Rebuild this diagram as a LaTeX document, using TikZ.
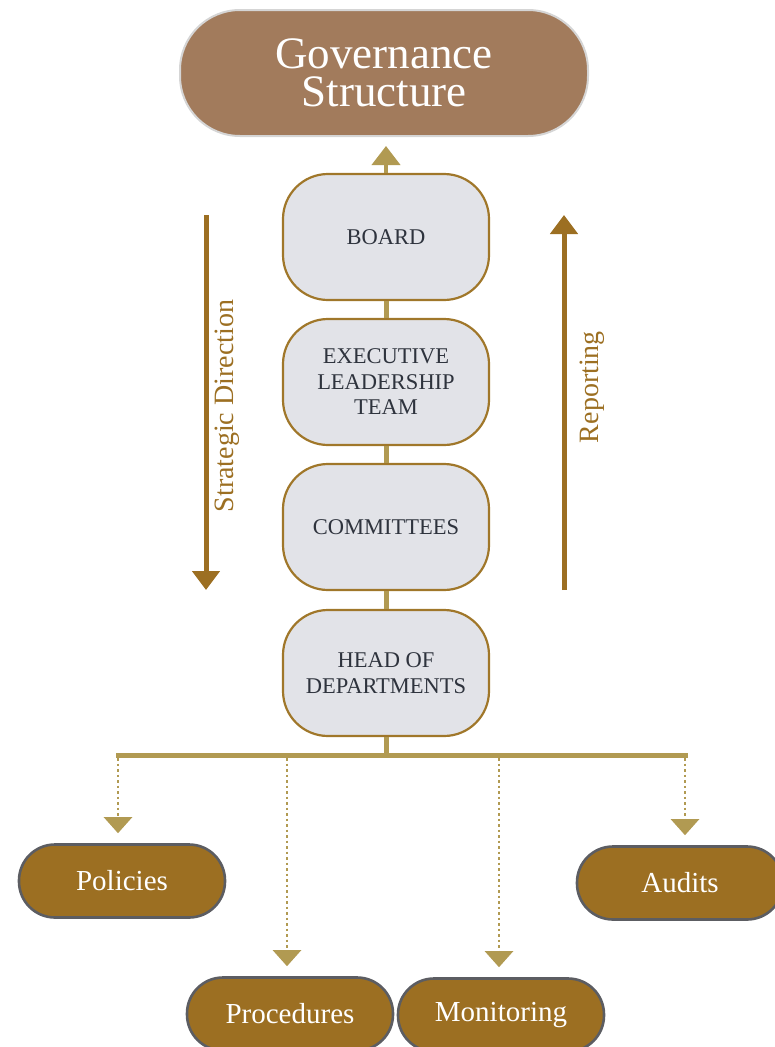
\documentclass[tikz,border=0pt]{standalone}
\usepackage{fontspec}
\setmainfont{Liberation Serif}
\usetikzlibrary{arrows.meta}

\definecolor{govbrown}{HTML}{A27B5C}
\definecolor{govrim}{HTML}{D5D5D5}
\definecolor{govgold}{HTML}{B19A52}
\definecolor{govbronze}{HTML}{9C6F22}
\definecolor{boxfill}{HTML}{E2E3E8}
\definecolor{boxedge}{HTML}{A0772A}
\definecolor{boxtext}{HTML}{2E333D}
\definecolor{leafedge}{HTML}{5C5D62}

\tikzset{
titlebox/.style={draw=govrim, line width=2pt, fill=govbrown,
 rounded corners=60pt, minimum width=408pt, minimum height=126pt,
 align=center, text=white, font=\fontsize{45}{38}\selectfont},
tierbox/.style={draw=boxedge, line width=2.2pt, fill=boxfill,
 rounded corners=45pt, minimum width=206pt, minimum height=126pt,
 align=center, text=boxtext, font=\fontsize{22.5}{25.5}\selectfont},
leafbox/.style={draw=leafedge, line width=2.6pt, fill=govbronze,
 rounded corners=36pt, minimum width=206pt, minimum height=73pt,
 text=white, font=\fontsize{29}{32}\selectfont},
joinline/.style={govgold, line width=5pt},
flow/.style={govbronze, line width=5pt, -{Triangle[width=27pt,length=19pt]}},
feed/.style={govgold, line width=2.5pt, dash pattern=on 2.5pt off 3pt,
 -{Triangle[width=28pt,length=16pt]}, shorten >=10pt},
sidetext/.style={rotate=90, text=govbronze, font=\fontsize{28}{32}\selectfont}
}

\begin{document}
\begin{tikzpicture}[x=1pt, y=-1pt]
\useasboundingbox (0,0) rectangle (774,1047);

% top of the structure
\node[titlebox] (gov) at (384,73) {Governance\\Structure};

% the tiers
\node[tierbox] (board) at (386,237) {BOARD};
\node[tierbox] (exec) at (386,382) {EXECUTIVE\\LEADERSHIP\\TEAM};
\node[tierbox] (comm) at (386,527) {COMMITTEES};
\node[tierbox] (head) at (386,673) {HEAD OF\\DEPARTMENTS};

\draw[govgold, line width=4pt, -{Triangle[width=28pt,length=19pt]},
 shorten >=9pt] (board.north) -- (board.north |- gov.south);
\draw[joinline] (board.south) -- (exec.north);
\draw[joinline] (exec.south) -- (comm.north);
\draw[joinline] (comm.south) -- (head.north);

% side arrows
\coordinate (sd-top) at (206,215);
\coordinate (sd-bot) at (206,590);
\draw[flow] (sd-top) -- (sd-bot);
\node[sidetext] (sd-text) at (227,406) {Strategic Direction};

\coordinate (rp-bot) at (564,590);
\coordinate (rp-top) at (564,215);
\draw[flow] (rp-bot) -- (rp-top);
\node[sidetext] (rp-text) at (592,387) {Reporting};

% branch bar
\coordinate (barL) at (116,755);
\coordinate (barR) at (688,755);
\draw[joinline] (head.south) -- (head.south |- barL);
\draw[joinline] (barL) -- (barR);

% outputs
\node[leafbox] (pol) at (122,881) {Policies};
\node[leafbox] (aud) at (680,883) {Audits};
\node[leafbox] (proc) at (290,1014) {Procedures};
\node[leafbox] (mon) at (501,1015) {Monitoring};

\foreach \x/\n in {118/pol, 287/proc, 499/mon, 685/aud}{
 \coordinate (drop-\n) at (\x,758);
 \draw[feed] (drop-\n) -- (drop-\n |- \n.north);
}

\end{tikzpicture}
\end{document}
